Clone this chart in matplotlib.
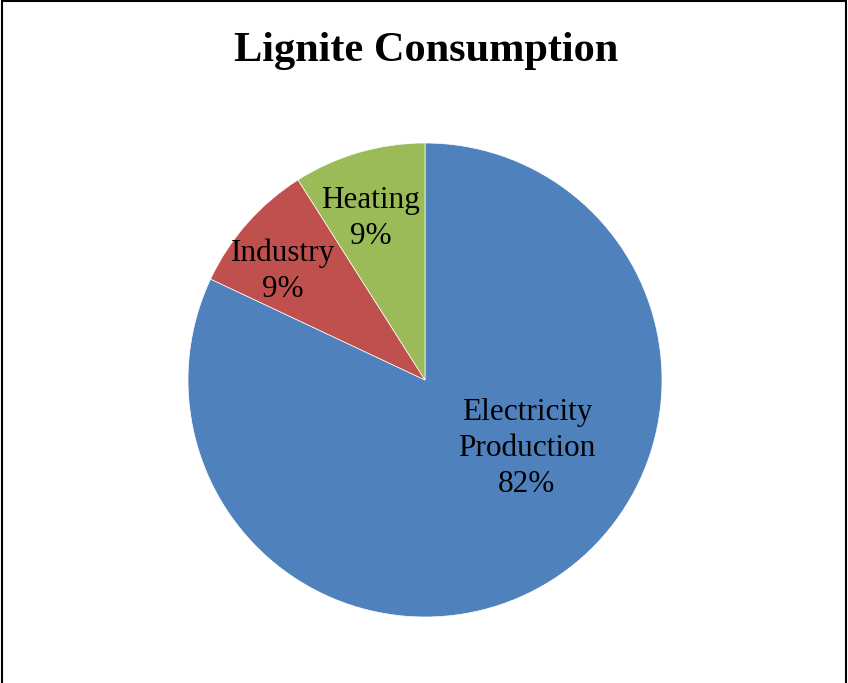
import matplotlib.pyplot as plt
from matplotlib.patches import Rectangle

plt.rcParams['font.family'] = ['Liberation Serif', 'DejaVu Serif']

labels = ['Electricity\nProduction', 'Industry', 'Heating']
shares = [82, 9, 9]
colors = ['#4F81BD', '#C0504D', '#9BBB59']
# label anchor points inside the unit pie
label_pos = [(0.43, -0.29), (-0.60, 0.46), (-0.23, 0.68)]

fig = plt.figure(figsize=(8.48, 6.83), dpi=100)

# outer chart frame
fig.patches.append(Rectangle((0.0025, -0.01), 0.9955, 1.008, transform=fig.transFigure,
                             fill=False, edgecolor='black', linewidth=1.5))

fig.text(0.502, 0.926, 'Lignite Consumption', ha='center', va='center',
         fontsize=30.5, fontweight='bold')

ax = fig.add_axes([(425 - 237) / 848, (683 - 617) / 683, 474 / 848, 474 / 683])
wedges, _ = ax.pie(shares, colors=colors, startangle=90, counterclock=False,
                   radius=1, wedgeprops=dict(edgecolor='white', linewidth=0.5))
ax.set_xlim(-1, 1)
ax.set_ylim(-1, 1)
ax.set_aspect('auto')
ax.axis('off')

for name, val, (x, y) in zip(labels, shares, label_pos):
    ax.text(x, y, f'{name}\n{val}%', ha='center', va='center',
            fontsize=22.5, linespacing=1.32)

fig.savefig('out.png', dpi=100)
